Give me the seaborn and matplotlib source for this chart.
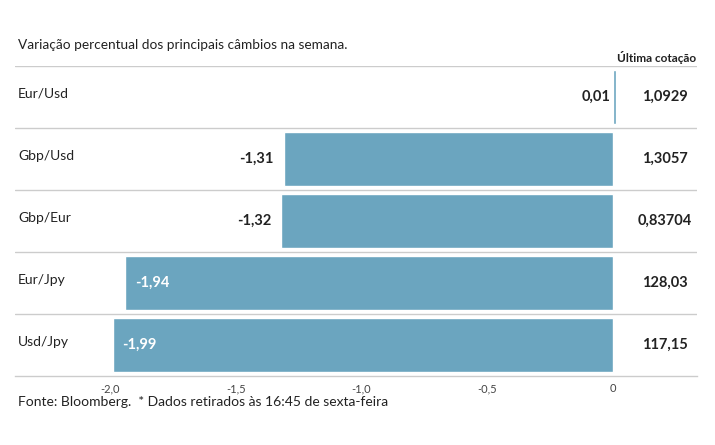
import matplotlib
matplotlib.use("Agg")
import matplotlib.pyplot as plt
import seaborn as sns
import pandas as pd

pairs = ["Eur/Usd", "Gbp/Usd", "Gbp/Eur", "Eur/Jpy", "Usd/Jpy"]
changes = [0.01, -1.31, -1.32, -1.94, -1.99]
change_labels = ["0,01", "-1,31", "-1,32", "-1,94", "-1,99"]
quotes = ["1,0929", "1,3057", "0,83704", "128,03", "117,15"]
tick_values = [-2.0, -1.5, -1.0, -0.5, 0]
tick_labels = ["-2,0", "-1,5", "-1,0", "-0,5", "0"]

sns.set_theme(style="white")
plt.rcParams['font.family'] = ['Lato', 'DejaVu Sans']

df = pd.DataFrame({"pair": pairs, "change": changes})

fig = plt.figure(figsize=(7.15, 4.45), dpi=100)
ax = fig.add_axes([15/715, 1-376/445, (697-15)/715, (376-66)/445])

bar_color = "#6BA5BF"
sns.barplot(data=df, x="change", y="pair", orient="h", color=bar_color,
            width=0.86, ax=ax, saturation=1)

xmin = (15 - 613) / 251.5
xmax = (697 - 613) / 251.5
ax.set_xlim(xmin, xmax)
ax.set_ylim(4.5, -0.5)

for s in ["top", "right", "left"]:
    ax.spines[s].set_visible(False)
ax.spines["bottom"].set_color("#cccccc")
ax.spines["bottom"].set_linewidth(1)

for yy in [-0.5, 0.5, 1.5, 2.5, 3.5]:
    ax.axhline(yy, color="#cccccc", lw=1, zorder=0)

ax.set_xticks(tick_values)
ax.set_xticklabels(tick_labels, fontsize=8, color="#444444")
ax.tick_params(axis="x", direction="in", length=6, color="#cccccc", pad=5)
ax.set_yticks([])
ax.set_xlabel("")
ax.set_ylabel("")

for i, (p, v, lab, q) in enumerate(zip(pairs, changes, change_labels, quotes)):
    ax.text(xmin + 3/251.5, i - 0.05, p, ha="left", va="center", fontsize=10, color="#222222")
    if v < -1.5:
        ax.text(v + 0.04, i, lab, ha="left", va="center", fontsize=10.5,
                fontweight="bold", color="white")
    elif v < 0:
        ax.text(v - 0.04, i, lab, ha="right", va="center", fontsize=10.5,
                fontweight="bold", color="#222222")
    else:
        ax.text(-0.01, i, lab, ha="right", va="center", fontsize=10.5,
                fontweight="bold", color="#222222")
    ax.text(0.205, i, q, ha="center", va="center", fontsize=10.5,
            fontweight="bold", color="#222222")

fig.text(18/715, 1-45/445, "Variação percentual dos principais câmbios na semana.",
         ha="left", va="center", fontsize=9.8, color="#222222")
fig.text(657/715, 1-57/445, "Última cotação", ha="center", va="center",
         fontsize=8.5, fontweight="bold", color="#222222")
fig.text(18/715, 1-402/445, "Fonte: Bloomberg.  * Dados retirados às 16:45 de sexta-feira",
         ha="left", va="center", fontsize=10, color="#222222")

fig.savefig("out.png", dpi=100)
